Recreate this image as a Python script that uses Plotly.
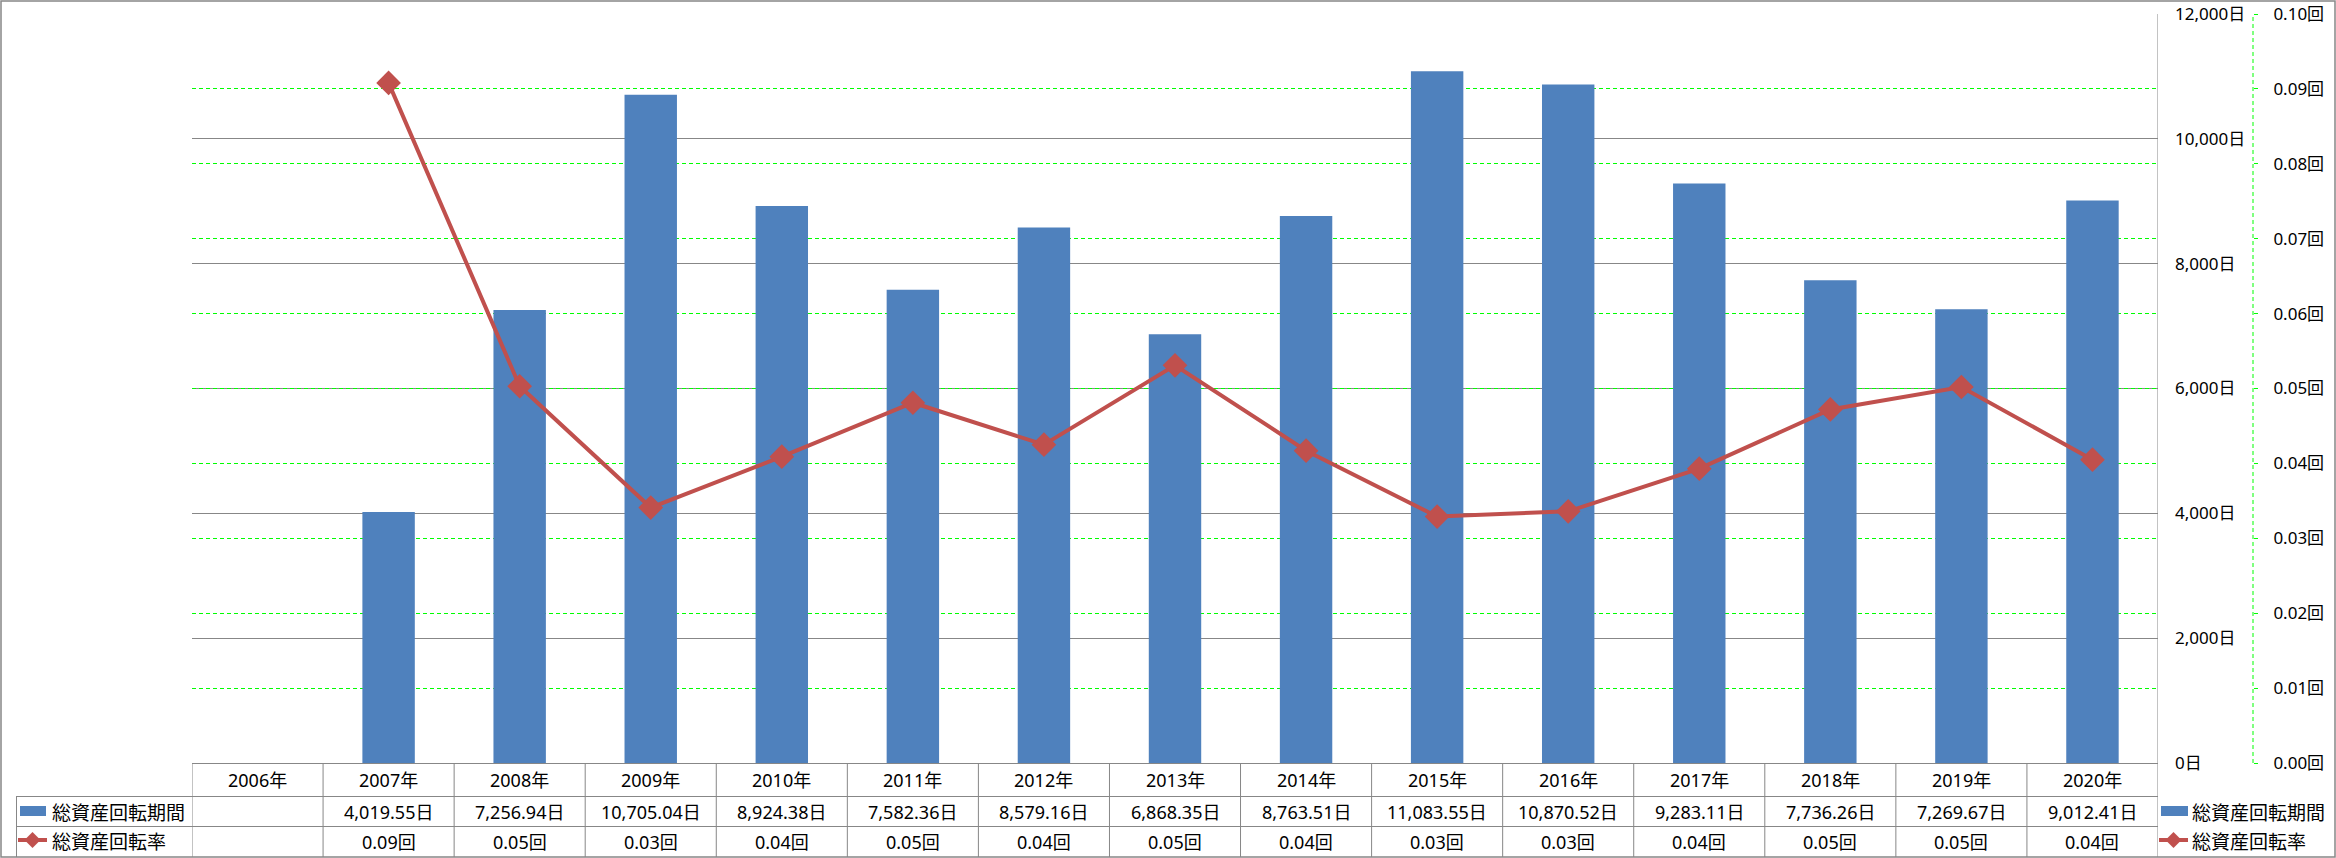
import plotly.graph_objects as go

# ---------------- data ----------------
years = ["2006年", "2007年", "2008年", "2009年", "2010年", "2011年", "2012年", "2013年",
         "2014年", "2015年", "2016年", "2017年", "2018年", "2019年", "2020年"]
data_years = years[1:]
period_days = [4019.55, 7256.94, 10705.04, 8924.38, 7582.36, 8579.16, 6868.35,
               8763.51, 11083.55, 10870.52, 9283.11, 7736.26, 7269.67, 9012.41]
turnover = [0.0908, 0.0503, 0.0341, 0.0409, 0.0481, 0.0425, 0.0531,
            0.0417, 0.0329, 0.0336, 0.0393, 0.0472, 0.0502, 0.0405]
series_bar = "総資産回転期間"
series_line = "総資産回転率"

# ---------------- layout geometry ----------------
W, H = 2336, 858
L, R, T, B = 192, 2253, 14, 763          # plot area in pixels
PW, PH = R - L, B - T
AX_RIGHT = 2158                           # right end of category axis


def px(x):
    return (x - L) / PW


def py(y):
    return (B - y) / PH


BLUE = "#4F81BD"
RED = "#C0504D"
GRID = "#878787"
GREEN = "#00FF00"
FONT_NUM = "Noto Sans, Noto Sans CJK JP, sans-serif"
FONT_JP = "Noto Sans CJK JP, Noto Sans, sans-serif"

fig = go.Figure()
fig.add_trace(go.Bar(x=data_years, y=period_days, name=series_bar, width=0.4,
                     marker=dict(color=BLUE, line=dict(width=0)), showlegend=False))
fig.add_trace(go.Scatter(x=data_years, y=turnover, name=series_line, yaxis="y2",
                         mode="lines+markers",
                         line=dict(color=RED, width=4),
                         marker=dict(symbol="diamond", size=19, color=RED),
                         showlegend=False))

shapes = []
annotations = []
TF = dict(size=18, family=FONT_NUM, color="#000")

# table: header row
y_head, y_r1, y_r2 = py(780), py(811.5), py(841.5)
for yr in years:
    annotations.append(dict(x=yr, xref="x", y=y_head, yref="paper", text=yr,
                            xanchor="center", yanchor="middle", showarrow=False, font=TF))
for yr, v, r in zip(data_years, period_days, turnover):
    annotations.append(dict(x=yr, xref="x", y=y_r1, yref="paper", text=f"{v:,.2f}日",
                            xanchor="center", yanchor="middle", showarrow=False, font=TF))
    annotations.append(dict(x=yr, xref="x", y=y_r2, yref="paper", text=f"{r:.2f}回",
                            xanchor="center", yanchor="middle", showarrow=False, font=TF))

# table lines
for k in range(len(years) + 1):
    shapes.append(dict(type="line", xref="x", yref="paper", x0=k - 0.5, x1=k - 0.5,
                       y0=py(857), y1=(1 if k == len(years) else 0),
                       line=dict(color=GRID, width=1)))
for yy in (796.5, 826.5):
    shapes.append(dict(type="line", xref="paper", yref="paper", x0=px(16), x1=px(AX_RIGHT),
                       y0=py(yy), y1=py(yy), line=dict(color=GRID, width=1)))
shapes.append(dict(type="line", xref="paper", yref="paper", x0=px(16.5), x1=px(16.5),
                   y0=py(796.5), y1=py(857), line=dict(color=GRID, width=1)))


# legend keys (table row headers and right legend)
def bar_key(x0, x1, yc):
    shapes.append(dict(type="rect", xref="paper", yref="paper", x0=px(x0), x1=px(x1),
                       y0=py(yc + 5), y1=py(yc - 5), fillcolor=BLUE, line=dict(width=0)))


def line_key(x0, x1, yc):
    shapes.append(dict(type="line", xref="paper", yref="paper", x0=px(x0), x1=px(x1),
                       y0=py(yc), y1=py(yc), line=dict(color=RED, width=4)))
    xc = (x0 + x1) / 2
    d = 8
    path = (f"M{px(xc - d)},{py(yc)} L{px(xc)},{py(yc - d)} "
            f"L{px(xc + d)},{py(yc)} L{px(xc)},{py(yc + d)} Z")
    shapes.append(dict(type="path", xref="paper", yref="paper", path=path,
                       fillcolor=RED, line=dict(width=0)))


bar_key(20, 46, 811)
line_key(18, 47, 840)
bar_key(2161, 2188, 811)
line_key(2159, 2188, 840)
for x0, txt, yc in ((50, series_bar, 811), (50, series_line, 841),
                    (2190, series_bar, 811), (2190, series_line, 841)):
    annotations.append(dict(x=px(x0), xref="paper", xanchor="left", y=py(yc), yref="paper",
                            yanchor="middle", text=txt, showarrow=False,
                            font=dict(size=19, family=FONT_JP, color="#000")))

# secondary axis dashed line
shapes.append(dict(type="line", xref="paper", yref="paper", x0=1, x1=1, y0=0, y1=1,
                   line=dict(color=GREEN, width=1, dash="4px,3px")))
# outer chart border
shapes.append(dict(type="rect", xref="paper", yref="paper", x0=px(1), x1=px(2335),
                   y0=py(857), y1=py(1), line=dict(color=GRID, width=1.5)))

fig.update_layout(
    template="none",
    width=W, height=H,
    autosize=False,
    margin=dict(l=L, r=W - R, t=T, b=H - B, pad=0, autoexpand=False),
    paper_bgcolor="white", plot_bgcolor="white",
    showlegend=False,
    bargap=0.6,
    font=dict(family=FONT_NUM, size=17, color="#000"),
    xaxis=dict(type="category", categoryorder="array", categoryarray=years,
               range=[-0.5, len(years) - 0.5], domain=[0, px(AX_RIGHT)],
               automargin=False,
               showticklabels=False, ticks="", showgrid=False,
               showline=True, linecolor=GRID, linewidth=1, zeroline=False),
    yaxis=dict(range=[0, 12000], dtick=2000, side="right", anchor="x", automargin=False,
               tickformat=",d", ticksuffix="日", ticks="", ticklabelstandoff=16,
               showgrid=True, gridcolor=GRID, gridwidth=1, zeroline=False,
               showline=False, tickfont=dict(size=17, family=FONT_NUM)),
    yaxis2=dict(range=[0, 0.10], dtick=0.01, overlaying="y", side="right",
                anchor="free", position=1.0, tickformat=".2f", ticksuffix="回",
                automargin=False,
                ticks="outside", ticklen=4, tickcolor=GREEN, tickwidth=1,
                ticklabelstandoff=12,
                showgrid=True, gridcolor=GREEN, gridwidth=1, griddash="4px,3px",
                zeroline=False, showline=False, tickfont=dict(size=17, family=FONT_NUM)),
    shapes=shapes,
    annotations=annotations,
)

fig.write_html("out.html")
